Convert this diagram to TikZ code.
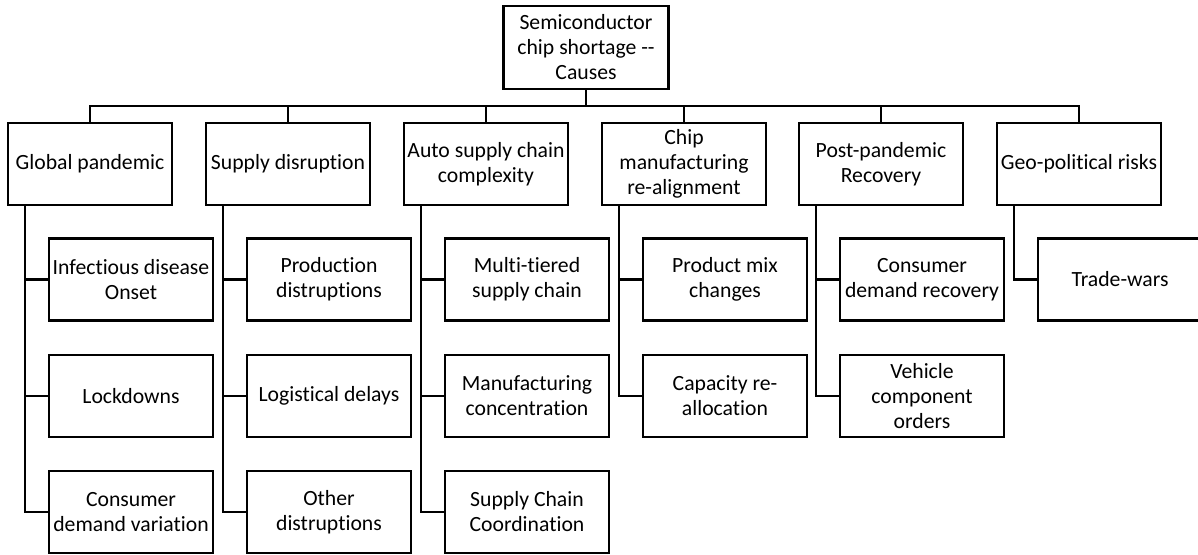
\documentclass[tikz,border=0pt]{standalone}
\usepackage{fontspec}
\setmainfont{Carlito}[Ligatures={NoCommon}]
\begin{document}
\begin{tikzpicture}[x=1pt,y=-1pt,
  box/.style={draw=black, line width=2.6pt, rectangle, minimum width=164pt, minimum height=82pt,
    inner sep=0pt, outer sep=0pt, align=center, font=\fontsize{21.7}{25}\selectfont},
  conn/.style={draw=black, line width=2.6pt, line cap=rect}]
\useasboundingbox (0,0) rectangle (1198,554);
\clip (0,0) rectangle (1198,554);
% root
\node[box, minimum width=165pt, minimum height=83pt] (root) at (586,47.5) {Semiconductor\\chip shortage -{}-\\Causes};
% level 1
\node[box] (A) at (90,164) {Global pandemic};
\node[box] (B) at (288,164) {Supply disruption};
\node[box] (C) at (486,164) {Auto supply chain\\complexity};
\node[box] (D) at (684,164) {Chip\\manufacturing\\re-alignment};
\node[box] (E) at (881,164) {Post-pandemic\\Recovery};
\node[box] (F) at (1079,164) {Geo-political risks};
% level 2
\node[box] (A1) at (131,279.5) {Infectious disease\\Onset};
\node[box] (A2) at (131,396) {Lockdowns};
\node[box] (A3) at (131,512) {Consumer\\demand variation};
\node[box] (B1) at (329,279.5) {Production\\distruptions};
\node[box] (B2) at (329,396) {Logistical delays};
\node[box] (B3) at (329,512) {Other\\distruptions};
\node[box] (C1) at (527,279.5) {Multi-tiered\\supply chain};
\node[box] (C2) at (527,396) {Manufacturing\\concentration};
\node[box] (C3) at (527,512) {Supply Chain\\Coordination};
\node[box] (D1) at (725,279.5) {Product mix\\changes};
\node[box] (D2) at (725,396) {Capacity re-\\allocation};
\node[box] (E1) at (922,279.5) {Consumer\\demand recovery};
\node[box] (E2) at (922,396) {Vehicle\\component\\orders};
\node[box] (F1) at (1120,279.5) {Trade-wars};
% root to level 1
\foreach \n in {A,B,C,D,E,F}
  \draw[conn] (root.south) -- ++(0,17) -| (\n.north);
% level 1 to level 2
\foreach \p/\c in {A/A1,A/A2,A/A3,B/B1,B/B2,B/B3,C/C1,C/C2,C/C3,D/D1,D/D2,E/E1,E/E2,F/F1}
  \draw[conn] ([xshift=17pt]\p.south west) |- (\c.west);
\end{tikzpicture}
\end{document}
